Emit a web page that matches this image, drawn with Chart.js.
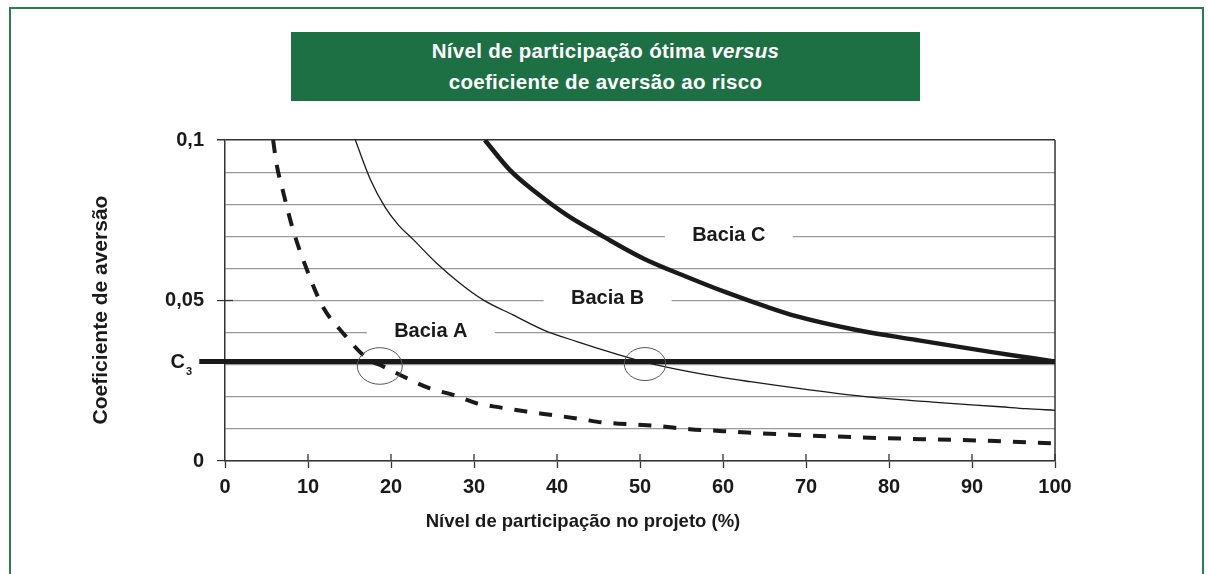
<!DOCTYPE html>
<html>
<head>
<meta charset="utf-8">
<script src="https://cdn.jsdelivr.net/npm/chart.js@4/dist/chart.umd.min.js"></script>
<style>
    body { margin: 0; background: #fff; }
    #wrap { position: relative; width: 1209px; height: 574px; overflow: hidden; }
    #frame { position: absolute; left: 9px; top: 7px; width: 1191px; height: 640px; border: 2px solid #2b7d4e; }
    #title {
        position: absolute; left: 291px; top: 32px; width: 629px; height: 69px;
        background: #1d7043; color: #fff; text-align: center;
        font: bold 20.5px "Liberation Sans", Arial, sans-serif; line-height: 31px;
        padding-top: 3px; box-sizing: border-box; letter-spacing: 0.3px;
    }
    canvas { position: absolute; left: 0; top: 0; }
</style>
</head>
<body>
<div id="wrap">
    <div id="frame"></div>
    <canvas id="aversionChart" width="1209" height="574"></canvas>
    <div id="title">Nível de participação ótima <i>versus</i><br>coeficiente de aversão ao risco</div>
</div>
<script>
// Data
const basinAX = [5.8, 6.2, 7.0, 8.2, 10.2, 11.8, 14.2, 17.1, 19.1, 21.9, 24.7, 27.5, 30.3, 33.1, 36.3, 39.5, 42.8, 45.5, 48.4, 52, 56, 60, 64, 68, 76, 84, 92, 100];
const basinAY = [0.1, 0.0927, 0.0839, 0.072, 0.0574, 0.048, 0.0399, 0.032, 0.0294, 0.0258, 0.0226, 0.0206, 0.018, 0.0167, 0.0154, 0.0143, 0.0131, 0.012, 0.0115, 0.0109, 0.0099, 0.0093, 0.0087, 0.0082, 0.0074, 0.0068, 0.0063, 0.0055];

const basinBX = [15.7, 17.5, 19.3, 20.9, 22.6, 25.5, 28.3, 31.1, 34.7, 38.4, 42.4, 46.8, 51.2, 57.2, 63.3, 70, 78.1, 86.1, 93.4, 96.5, 100];
const basinBY = [0.1, 0.0878, 0.079, 0.0735, 0.0692, 0.0616, 0.0554, 0.0502, 0.0455, 0.0408, 0.0372, 0.0336, 0.0304, 0.0272, 0.0247, 0.0223, 0.0198, 0.0182, 0.0169, 0.0163, 0.0158];

const basinCX = [31.3, 34.3, 37.6, 41.2, 45.6, 50.4, 55.6, 60.4, 65.3, 68.7, 76.1, 83.3, 92.2, 97.4, 100];
const basinCY = [0.1, 0.0907, 0.0834, 0.0766, 0.0699, 0.0631, 0.0574, 0.0525, 0.048, 0.0452, 0.0408, 0.0377, 0.034, 0.032, 0.031];

const c3Value = 0.031;
const c3LineX = [-3.1, 100];

const yGridValues = [0, 0.01, 0.02, 0.03, 0.04, 0.05, 0.06, 0.07, 0.08, 0.09, 0.1];
const yTickValues = [0, 0.05, 0.1];
const yTickLabels = ['0', '0,05', '0,1'];

const basinLabels = ['Bacia A', 'Bacia B', 'Bacia C'];
const xTitle = 'Nível de participação no projeto (%)';
const yTitle = 'Coeficiente de aversão';

// Annotation anchors (data units)
const labelAnchors = [{ x: 24.8, y: 0.0403 }, { x: 46.1, y: 0.0505 }, { x: 60.7, y: 0.0704 }];
const circleAnchors = [{ x: 18.65, y: 0.0296, rx: 22.5, ry: 18.3 }, { x: 50.6, y: 0.0302, rx: 20.7, ry: 16.5 }];

const FONT = '"Liberation Sans", Arial, sans-serif';
const INK = '#1a1a1a';
Chart.defaults.font.family = FONT;

const toPoints = (xs, ys) => xs.map((x, i) => ({ x: x, y: ys[i] }));
const tickIndex = v => yTickValues.findIndex(t => Math.abs(t - v) < 1e-9);

// Extra drawing: frame, label boxes, circles, C3 label, axis titles
const decorations = {
    id: 'decorations',
    beforeDatasetsDraw(chart) {
        const { ctx, chartArea, scales: { x, y } } = chart;
        ctx.save();
        // white gaps behind the basin labels
        ctx.fillStyle = '#fff';
        labelAnchors.forEach(a => {
            const px = x.getPixelForValue(a.x);
            const py = y.getPixelForValue(a.y);
            ctx.fillRect(px - 64, py - 8, 128, 16);
        });
        // right frame line
        ctx.strokeStyle = '#333';
        ctx.lineWidth = 1.5;
        ctx.beginPath();
        ctx.moveTo(chartArea.right, chartArea.top);
        ctx.lineTo(chartArea.right, chartArea.bottom);
        ctx.stroke();
        // x ticks also cross upward into the plot
        ctx.lineWidth = 1.3;
        for (let v = 10; v <= 100; v += 10) {
            const px = x.getPixelForValue(v);
            ctx.beginPath();
            ctx.moveTo(px, chartArea.bottom - 7);
            ctx.lineTo(px, chartArea.bottom);
            ctx.stroke();
        }
        // 0,05 tick reaches into the plot
        const p05 = y.getPixelForValue(0.05);
        ctx.beginPath();
        ctx.moveTo(chartArea.left, p05);
        ctx.lineTo(chartArea.left + 8, p05);
        ctx.stroke();
        ctx.restore();
    },
    afterDatasetsDraw(chart) {
        const { ctx, scales: { x, y } } = chart;
        ctx.save();
        // circles around the crossings
        ctx.strokeStyle = '#555';
        ctx.lineWidth = 1;
        circleAnchors.forEach(c => {
            ctx.beginPath();
            ctx.ellipse(x.getPixelForValue(c.x), y.getPixelForValue(c.y), c.rx, c.ry, 0, 0, Math.PI * 2);
            ctx.stroke();
        });
        // basin labels
        ctx.fillStyle = INK;
        ctx.font = 'bold 20px ' + FONT;
        ctx.textAlign = 'center';
        ctx.textBaseline = 'middle';
        basinLabels.forEach((t, i) => {
            ctx.fillText(t, x.getPixelForValue(labelAnchors[i].x), y.getPixelForValue(labelAnchors[i].y));
        });
        // x axis title
        ctx.font = 'bold 18.5px ' + FONT;
        ctx.fillText(xTitle, 583, 522);
        // C3 label with subscript
        const pc = y.getPixelForValue(c3Value);
        ctx.textAlign = 'right';
        ctx.font = 'bold 20px ' + FONT;
        ctx.fillText('C', 185, pc + 1);
        ctx.textAlign = 'left';
        ctx.font = 'bold 11px ' + FONT;
        ctx.fillText('3', 186, pc + 10);
        // y axis title
        ctx.translate(101, 310);
        ctx.rotate(-Math.PI / 2);
        ctx.textAlign = 'center';
        ctx.font = 'bold 21px ' + FONT;
        ctx.fillText(yTitle, 0, 0);
        ctx.restore();
    }
};

const lineStyle = { pointRadius: 0, fill: false, borderColor: INK, cubicInterpolationMode: 'monotone' };

const ctx = document.getElementById('aversionChart').getContext('2d');
new Chart(ctx, {
    type: 'line',
    data: {
        datasets: [
            { ...lineStyle, label: basinLabels[0], data: toPoints(basinAX, basinAY), borderWidth: 4, borderDash: [13, 12] },
            { ...lineStyle, label: basinLabels[1], data: toPoints(basinBX, basinBY), borderWidth: 1.3 },
            { ...lineStyle, label: basinLabels[2], data: toPoints(basinCX, basinCY), borderWidth: 4.5 },
            { ...lineStyle, label: 'C3', data: toPoints(c3LineX, [c3Value, c3Value]), borderWidth: 5, clip: false }
        ]
    },
    options: {
        responsive: false,
        animation: false,
        layout: { padding: { left: 0, top: 140, right: 154, bottom: 0 } },
        plugins: { legend: { display: false }, tooltip: { enabled: false } },
        scales: {
            x: {
                type: 'linear', min: 0, max: 100,
                ticks: { stepSize: 10, color: INK, font: { size: 20, weight: 'bold' }, padding: 7 },
                grid: { drawOnChartArea: false, tickLength: 7, tickColor: '#333', tickWidth: 1.3 },
                border: { color: '#333', width: 1.5 },
                afterFit: scale => { scale.height = 113; }
            },
            y: {
                type: 'linear', min: 0, max: 0.1,
                afterBuildTicks: scale => { scale.ticks = yGridValues.map(v => ({ value: v })); },
                ticks: {
                    autoSkip: false, color: INK, font: { size: 20, weight: 'bold' }, padding: 13,
                    callback: v => { const i = tickIndex(v); return i >= 0 ? yTickLabels[i] : ''; }
                },
                grid: {
                    color: c => (Math.abs(c.tick.value - 0.1) < 1e-9 ? '#333' : '#9a9a9a'),
                    lineWidth: c => (Math.abs(c.tick.value - 0.1) < 1e-9 ? 1.5 : 1.2),
                    tickLength: 8,
                    tickColor: c => (tickIndex(c.tick.value) >= 0 ? '#333' : 'rgba(0,0,0,0)')
                },
                border: { color: '#333', width: 1.5 },
                afterFit: scale => { scale.width = 225; }
            }
        }
    },
    plugins: [decorations]
});
</script>
</body>
</html>
